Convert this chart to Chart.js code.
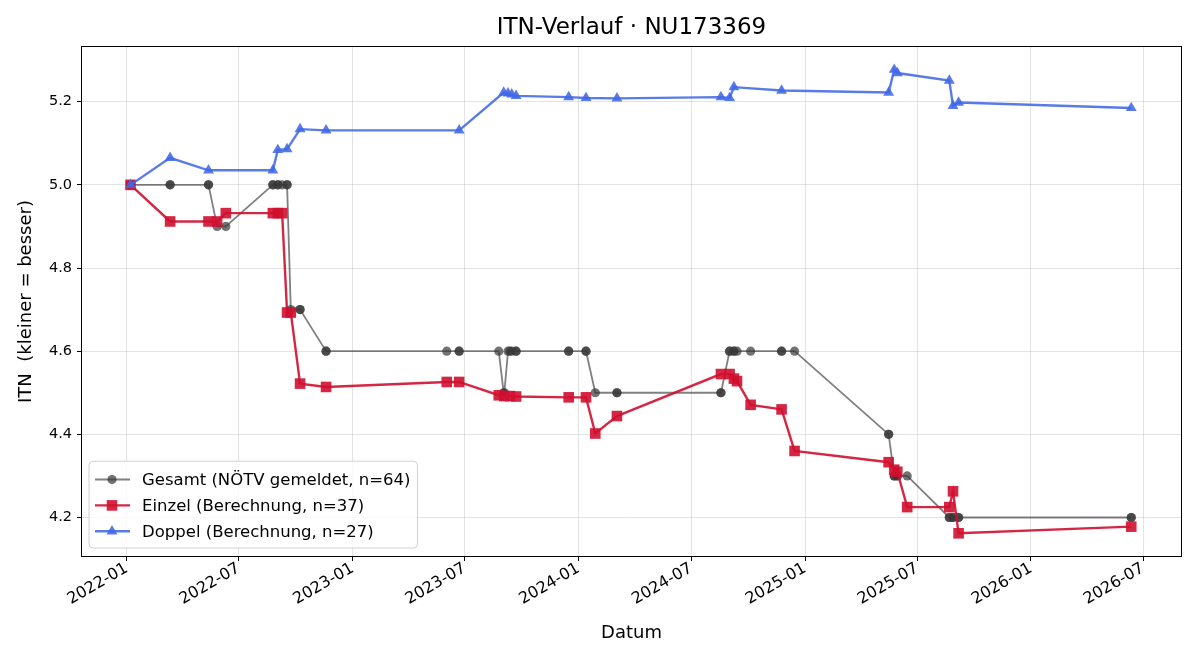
<!DOCTYPE html>
<html>
<head>
<meta charset="utf-8">
<script src="https://cdn.jsdelivr.net/npm/chart.js@4.4.1/dist/chart.umd.min.js"></script>
<style>body{margin:0;background:#fff}</style>
</head>
<body>
<canvas id="c" width="1200" height="660"></canvas>
<script>
// Gesamt = every match (singles + doubles), same dates as below
const gesamtDates = [
  "2022-01-07","2022-01-07","2022-03-12","2022-03-12","2022-05-13","2022-05-13","2022-05-27","2022-06-10","2022-08-25","2022-08-25",
  "2022-09-02","2022-09-02","2022-09-09","2022-09-17","2022-09-17","2022-09-23","2022-10-08","2022-10-08","2022-11-19","2022-11-19",
  "2023-06-02","2023-06-22","2023-06-22","2023-08-25","2023-09-02","2023-09-03","2023-09-09","2023-09-12","2023-09-15","2023-09-22","2023-09-22","2023-12-16","2023-12-16",
  "2024-01-13","2024-01-13","2024-01-28","2024-03-03","2024-03-03","2024-08-18","2024-08-18","2024-09-01","2024-09-01","2024-09-08","2024-09-08","2024-09-13","2024-10-05","2024-11-24","2024-11-24","2024-12-15",
  "2025-05-16","2025-05-16","2025-05-25","2025-05-25","2025-05-30","2025-05-30","2025-06-15","2025-08-22","2025-08-22","2025-08-28","2025-08-28","2025-09-06","2025-09-06","2026-06-12","2026-06-12"
];
const gesamtValues = [
  5.0,5.0,5.0,5.0,5.0,5.0,4.9,4.9,5.0,5.0,
  5.0,5.0,5.0,5.0,5.0,4.7,4.7,4.7,4.6,4.6,
  4.6,4.6,4.6,4.6,4.5,4.5,4.6,4.6,4.6,4.6,4.6,4.6,4.6,
  4.6,4.6,4.5,4.5,4.5,4.5,4.5,4.6,4.6,4.6,4.6,4.6,4.6,4.6,4.6,4.6,
  4.4,4.4,4.3,4.3,4.3,4.3,4.3,4.2,4.2,4.2,4.2,4.2,4.2,4.2,4.2
];

const einzelDates = [
  "2022-01-07","2022-03-12","2022-05-13","2022-05-27","2022-06-10","2022-08-25","2022-09-02","2022-09-09","2022-09-17","2022-09-23","2022-10-08","2022-11-19",
  "2023-06-02","2023-06-22","2023-08-25","2023-09-03","2023-09-12","2023-09-22","2023-12-16",
  "2024-01-13","2024-01-28","2024-03-03","2024-08-18","2024-09-01","2024-09-08","2024-09-13","2024-10-05","2024-11-24","2024-12-15",
  "2025-05-16","2025-05-25","2025-05-30","2025-06-15","2025-08-22","2025-08-28","2025-09-06","2026-06-12"
];
const einzelValues = [
  5.000,4.912,4.912,4.912,4.932,4.932,4.932,4.932,4.693,4.693,4.522,4.514,
  4.526,4.526,4.494,4.492,4.492,4.491,4.489,
  4.489,4.402,4.444,4.545,4.545,4.534,4.528,4.471,4.460,4.360,
  4.333,4.315,4.310,4.225,4.225,4.263,4.162,4.178
];

const doppelDates = [
  "2022-01-07","2022-03-12","2022-05-13","2022-08-25","2022-09-02","2022-09-17","2022-10-08","2022-11-19",
  "2023-06-22","2023-09-02","2023-09-09","2023-09-15","2023-09-22","2023-12-16",
  "2024-01-13","2024-03-03","2024-08-18","2024-09-01","2024-09-08","2024-11-24",
  "2025-05-16","2025-05-25","2025-05-30","2025-08-22","2025-08-28","2025-09-06","2026-06-12"
];
const doppelValues = [
  5.000,5.065,5.035,5.035,5.084,5.086,5.134,5.131,
  5.131,5.222,5.220,5.218,5.214,5.211,
  5.209,5.208,5.211,5.209,5.235,5.227,
  5.222,5.277,5.269,5.251,5.190,5.198,5.185
];

const xTickLabels = ["2022-01","2022-07","2023-01","2023-07","2024-01","2024-07","2025-01","2025-07","2026-01","2026-07"];
const yTicks = [4.2, 4.4, 4.6, 4.8, 5.0, 5.2];

const FONT = '"DejaVu Sans", sans-serif';
const toPoints = (dates, vals) => dates.map((d, i) => ({ x: Date.parse(d), y: vals[i] }));

// full frame round the plot (matplotlib spines)
const frame = {
  id: "frame",
  afterDatasetsDraw(chart) {
    const { ctx, chartArea: a } = chart;
    ctx.save();
    ctx.strokeStyle = "#000";
    ctx.lineWidth = 1;
    ctx.strokeRect(Math.round(a.left) + 0.5, Math.round(a.top) + 0.5,
      Math.round(a.right - a.left) - 1, Math.round(a.bottom - a.top) - 1);
    ctx.restore();
  }
};

// matplotlib-style legend in the lower left of the plot
const legendBox = {
  id: "legendBox",
  afterDraw(chart) {
    const { ctx, chartArea } = chart;
    const ds = chart.data.datasets;
    ctx.save();
    ctx.font = "16.5px " + FONT;
    const textW = Math.max(...ds.map(d => ctx.measureText(d.label).width));
    const rowH = 25.9;
    const x0 = chartArea.left + 8;
    const w = 53 + textW + 7;
    const h = 18.3 + rowH * (ds.length - 1) + 16.7;
    const y0 = chartArea.bottom - 9 - h;
    ctx.beginPath();
    ctx.roundRect(x0, y0, w, h, 4);
    ctx.fillStyle = "rgba(255,255,255,0.8)";
    ctx.fill();
    ctx.strokeStyle = "#d0d0d0";
    ctx.lineWidth = 1;
    ctx.stroke();
    ds.forEach((d, i) => {
      const cy = y0 + 18.3 + rowH * i;
      ctx.beginPath();
      ctx.moveTo(x0 + 6, cy);
      ctx.lineTo(x0 + 41, cy);
      ctx.strokeStyle = d.borderColor;
      ctx.lineWidth = d.borderWidth;
      ctx.stroke();
      ctx.fillStyle = d.pointBackgroundColor;
      Chart.helpers.drawPoint(ctx, { pointStyle: d.pointStyle, radius: d.pointRadius, rotation: 0, borderWidth: 0 }, x0 + 23, cy);
      ctx.fillStyle = "#000";
      ctx.textBaseline = "middle";
      ctx.fillText(d.label, x0 + 53, cy + 1);
    });
    ctx.restore();
  }
};

new Chart(document.getElementById("c"), {
  type: "line",
  data: {
    datasets: [
      {
        label: "Gesamt (NÖTV gemeldet, n=64)",
        data: toPoints(gesamtDates, gesamtValues),
        borderColor: "rgba(60,60,60,0.65)",
        borderWidth: 1.8,
        pointStyle: "circle",
        pointRadius: 4.6,
        pointBackgroundColor: "rgba(55,55,55,0.7)",
        pointBorderWidth: 0,
        order: 3,
      },
      {
        label: "Einzel (Berechnung, n=37)",
        data: toPoints(einzelDates, einzelValues),
        borderColor: "rgba(208,16,48,0.9)",
        borderWidth: 2.4,
        pointStyle: "rect",
        pointRadius: 7.5,
        pointBackgroundColor: "rgba(208,16,48,0.9)",
        pointBorderWidth: 0,
        order: 2,
      },
      {
        label: "Doppel (Berechnung, n=27)",
        data: toPoints(doppelDates, doppelValues),
        borderColor: "rgba(65,105,230,0.88)",
        borderWidth: 2.4,
        pointStyle: "triangle",
        pointRadius: 6.3,
        pointBackgroundColor: "rgba(65,105,230,0.88)",
        pointBorderWidth: 0,
        order: 1,
      },
    ],
  },
  options: {
    responsive: false,
    animation: false,
    layout: { padding: { left: 0, right: 18, top: 0, bottom: 0 } },
    plugins: {
      legend: { display: false },
      tooltip: { enabled: false },
      title: {
        display: true,
        fullSize: false,
        text: "ITN-Verlauf · NU173369",
        color: "#000",
        font: { family: FONT, size: 23, weight: "normal" },
        padding: { top: 14, bottom: 4.4 },
      },
    },
    scales: {
      x: {
        type: "linear",
        min: Date.parse("2021-10-19"),
        max: Date.parse("2026-09-02"),
        afterBuildTicks: s => { s.ticks = xTickLabels.map(t => ({ value: Date.parse(t + "-01") })); },
        afterFit: s => { s.height = 103; },
        ticks: {
          color: "#000",
          font: { family: FONT, size: 16 },
          minRotation: 30,
          maxRotation: 30,
          padding: -2,
          callback: v => new Date(v).toISOString().slice(0, 7),
        },
        grid: { color: "rgba(176,176,176,0.35)", lineWidth: 1, tickColor: "#000", tickLength: 4 },
        border: { display: false },
        title: {
          display: true,
          text: "Datum",
          color: "#000",
          font: { family: FONT, size: 18 },
          padding: { top: 0, bottom: 16.2 },
        },
      },
      y: {
        min: 4.105,
        max: 5.334,
        afterBuildTicks: s => { s.ticks = yTicks.map(v => ({ value: v })); },
        afterFit: s => { s.width = 81; },
        ticks: {
          color: "#000",
          font: { family: FONT, size: 14.5 },
          padding: 5,
          callback: v => v.toFixed(1),
        },
        grid: { color: "rgba(176,176,176,0.35)", lineWidth: 1, tickColor: "#000", tickLength: 4 },
        border: { display: false },
        title: {
          display: true,
          text: "ITN  (kleiner = besser)",
          color: "#000",
          font: { family: FONT, size: 18 },
          padding: { top: 15.2, bottom: 0 },
        },
      },
    },
  },
  plugins: [frame, legendBox],
});
</script>
</body>
</html>
